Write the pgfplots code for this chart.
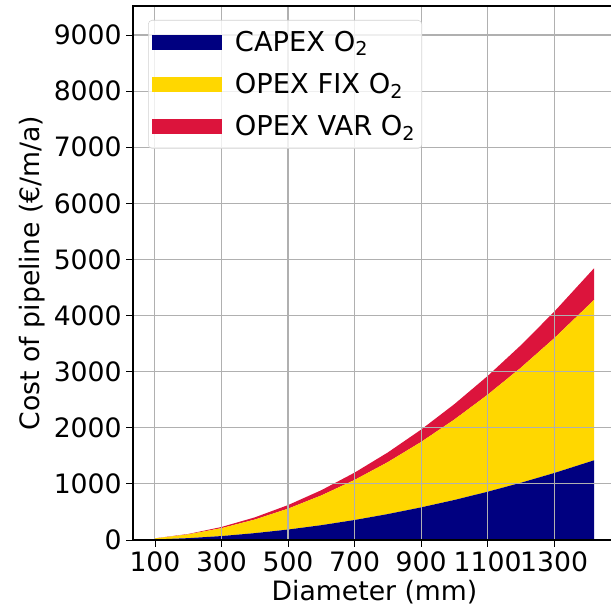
\documentclass[border=0pt]{standalone}
\usepackage{pgfplots}
\pgfplotsset{compat=1.18}
\usepackage{pgfplotstable}
\usepackage{fontspec}
\setmainfont{DejaVu Sans}
\definecolor{navy}{RGB}{0,0,128}
\definecolor{gold}{RGB}{255,215,0}
\definecolor{crimson}{RGB}{220,20,60}
\definecolor{gridgray}{RGB}{176,176,176}

\pgfplotstableread{
D capex fix var
100 10 19 1
200 33 67 7
300 70 141 21
400 122 242 39
500 186 372 64
600 264 530 93
700 356 714 130
800 462 926 172
900 581 1166 220
1000 713 1434 274
1100 860 1729 333
1200 1020 2051 400
1300 1193 2402 472
1420 1420 2858 565
}\data

\begin{document}
\begin{tikzpicture}
\begin{axis}[
  scale only axis, width=362.25pt, height=400.5pt,
  xmin=34, xmax=1486, ymin=0, ymax=9517,
  stack plots=y,
  axis on top,
  xtick={100,300,...,1300}, ytick={0,1000,...,9000},
  grid=major, grid style={gridgray, line width=0.8pt},
  tick style={black, line width=0.6pt}, tick align=outside, major tick length=5pt,
  tick pos=left,
  axis line style={black, line width=0.8pt},
  tick label style={font=\fontsize{20}{24}\selectfont},
  label style={font=\fontsize{20}{24}\selectfont},
  /pgf/number format/assume math mode=true,
  /pgf/number format/1000 sep={},
  scaled ticks=false,
  xlabel={Diameter (mm)}, ylabel={Cost of pipeline (€/m/a)},
  legend style={at={(0,1)}, anchor=north west, xshift=11.25pt, yshift=-10.5pt,
    draw=gray!35, rounded corners=3pt, fill=white, fill opacity=0.8, text opacity=1,
    font=\fontsize{20.5}{24}\selectfont, cells={anchor=west}, row sep=11pt,
    inner xsep=3pt, inner ysep=6pt},
  legend image code/.code={\fill[#1, fill opacity=1, sharp corners] (0pt,-5.6pt) rectangle (52.5pt,5.6pt); \path (60pt,0pt);},
]
\addplot[fill=navy, draw=none] table[x=D,y=capex]{\data} \closedcycle;
\addlegendentry{CAPEX O\textsubscript{2}}
\addplot[fill=gold, draw=none] table[x=D,y=fix]{\data} \closedcycle;
\addlegendentry{OPEX FIX O\textsubscript{2}}
\addplot[fill=crimson, draw=none] table[x=D,y=var]{\data} \closedcycle;
\addlegendentry{OPEX VAR O\textsubscript{2}}
\end{axis}
\pgfresetboundingbox
\path[use as bounding box] (-99.75pt,-54.75pt) rectangle (357.75pt,405pt);
\end{tikzpicture}
\end{document}
